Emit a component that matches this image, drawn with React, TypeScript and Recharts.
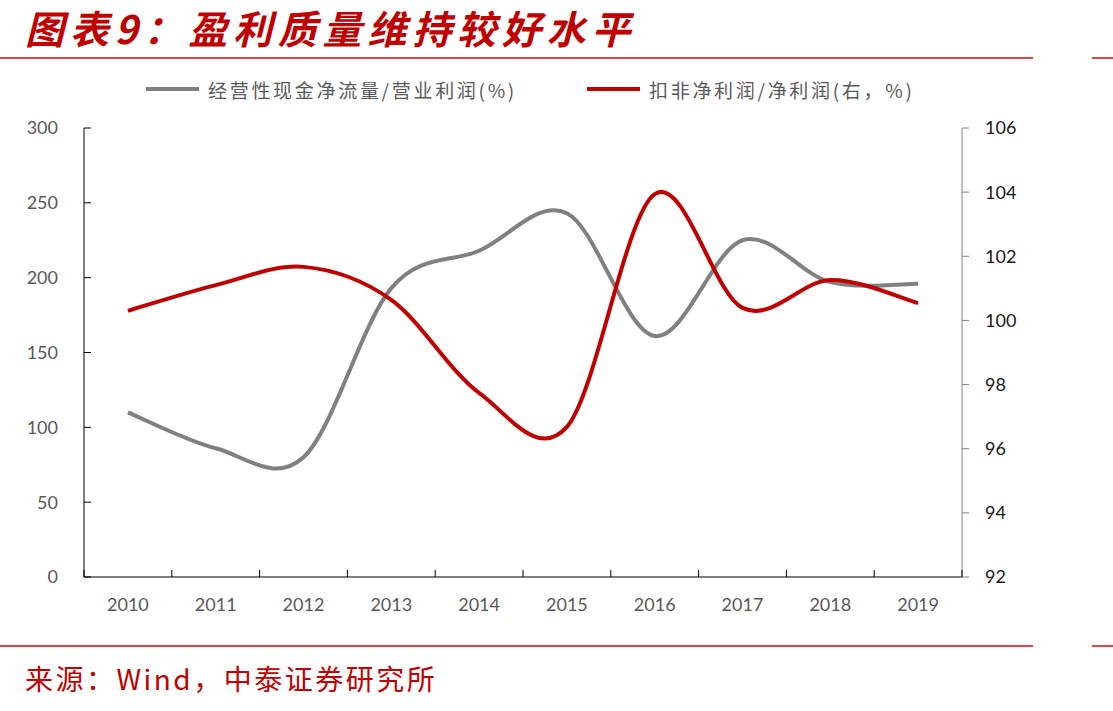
import React from 'react';
import { LineChart, Line, XAxis, YAxis } from 'recharts';

// Years on the category axis
const years = ['2010', '2011', '2012', '2013', '2014', '2015', '2016', '2017', '2018', '2019'];
// Operating cash flow / operating profit (%), left axis
const cashToProfit = [110, 86, 80, 193, 218, 243, 161, 225, 197, 196];
// Deducted net profit / net profit (%), right axis
const deductedRatio = [100.3, 101.1, 101.67, 100.64, 97.74, 96.68, 103.94, 100.39, 101.26, 100.54];

const leftTicks = [0, 50, 100, 150, 200, 250, 300];
const rightTicks = [92, 94, 96, 98, 100, 102, 104, 106];

const seriesNames = ['经营性现金净流量/营业利润(%)', '扣非净利润/净利润(右，%)'];
const seriesColors = ['#808080', '#c00000'];

const data = years.map((year, i) => ({
  year,
  cash: cashToProfit[i],
  ratio: deductedRatio[i],
}));

// Smoothed line in the style of office charts: cubic Bezier through every point
// with control points at one sixth of the neighbour-to-neighbour vector.
const smoothCurve: any = (context: any) => {
  let pts: [number, number][] = [];
  return {
    areaStart() {},
    areaEnd() {},
    lineStart() {
      pts = [];
    },
    point(x: number, y: number) {
      pts.push([+x, +y]);
    },
    lineEnd() {
      if (!pts.length) return;
      context.moveTo(pts[0][0], pts[0][1]);
      for (let i = 0; i < pts.length - 1; i++) {
        const p0 = pts[Math.max(i - 1, 0)];
        const p1 = pts[i];
        const p2 = pts[i + 1];
        const p3 = pts[Math.min(i + 2, pts.length - 1)];
        context.bezierCurveTo(
          p1[0] + (p2[0] - p0[0]) / 6,
          p1[1] + (p2[1] - p0[1]) / 6,
          p2[0] - (p3[0] - p1[0]) / 6,
          p2[1] - (p3[1] - p1[1]) / 6,
          p2[0],
          p2[1]
        );
      }
    },
  };
};

const tickFont = "Lato, 'Open Sans', sans-serif";
const cjkFont = "'Noto Sans CJK SC', sans-serif";

// Year label plus short inward tick marks at the band boundaries
const YearTick = (props: any) => {
  const { x, y, payload, index, visibleTicksCount } = props;
  const half = payload && typeof payload.offset === 'number' ? payload.offset : 0;
  const isLast = index === visibleTicksCount - 1;
  return (
    <g>
      <line x1={x - half} x2={x - half} y1={y} y2={y - 7} stroke="#000" strokeWidth={1} />
      {isLast && <line x1={x + half} x2={x + half} y1={y} y2={y - 7} stroke="#000" strokeWidth={1} />}
      <text x={x} y={y + 34} textAnchor="middle" fill="#595959" fontSize={18} fontFamily={tickFont}>
        {payload.value}
      </text>
    </g>
  );
};

const RedRule = ({ top }: { top: number }) => (
  <>
    <div style={{ position: 'absolute', left: 0, top, width: 1033, height: 2, background: '#e04545' }} />
    <div style={{ position: 'absolute', left: 1092, top, width: 21, height: 2, background: '#e04545' }} />
  </>
);

export default function App() {
  return (
    <div
      style={{
        position: 'absolute',
        left: 0,
        top: 0,
        width: 1113,
        height: 711,
        background: '#fff',
        overflow: 'hidden',
      }}
    >
      <div
        style={{
          position: 'absolute',
          left: 25,
          top: 2,
          fontFamily: cjkFont,
          fontSize: 39,
          fontWeight: 700,
          fontStyle: 'italic',
          letterSpacing: 5.8,
          color: '#c00000',
          whiteSpace: 'nowrap',
          lineHeight: '50px',
        }}
      >
        图表9：盈利质量维持较好水平
      </div>
      <RedRule top={57} />

      <div style={{ position: 'absolute', left: 0, top: 0 }}>
        <LineChart width={1113} height={640} data={data} margin={{ top: 128, right: 0, bottom: 0, left: 0 }}>
          <XAxis
            dataKey="year"
            xAxisId="x"
            scale="band"
            height={63}
            axisLine={{ stroke: '#000', strokeWidth: 1 }}
            tickLine={false}
            tickSize={0}
            tickMargin={0}
            interval={0}
            tick={<YearTick />}
          />
          <YAxis
            yAxisId="left"
            width={84}
            domain={[0, 300]}
            ticks={leftTicks}
            allowDataOverflow
            axisLine={{ stroke: '#000', strokeWidth: 1 }}
            tickLine={{ stroke: '#000', strokeWidth: 1 }}
            tickSize={-7}
            tickMargin={33}
            tick={{ fill: '#595959', fontSize: 18, fontFamily: tickFont }}
            interval={0}
          />
          <YAxis
            yAxisId="right"
            orientation="right"
            width={151}
            domain={[92, 106]}
            ticks={rightTicks}
            allowDataOverflow
            axisLine={{ stroke: '#808080', strokeWidth: 1 }}
            tickLine={{ stroke: '#808080', strokeWidth: 1 }}
            tickSize={7}
            tickMargin={16}
            tick={{ fill: '#1a1a1a', fontSize: 18, fontFamily: tickFont }}
            interval={0}
          />
          <Line
            xAxisId="x"
            yAxisId="left"
            dataKey="cash"
            name={seriesNames[0]}
            type={smoothCurve}
            stroke={seriesColors[0]}
            strokeWidth={4}
            dot={false}
            activeDot={false}
            isAnimationActive={false}
          />
          <Line
            xAxisId="x"
            yAxisId="right"
            dataKey="ratio"
            name={seriesNames[1]}
            type={smoothCurve}
            stroke={seriesColors[1]}
            strokeWidth={4}
            dot={false}
            activeDot={false}
            isAnimationActive={false}
          />
        </LineChart>
      </div>

      {/* legend */}
      {[146, 587].map((left, i) => (
        <div
          key={i}
          style={{
            position: 'absolute',
            left,
            top: 76,
            height: 26,
            display: 'flex',
            alignItems: 'center',
            whiteSpace: 'nowrap',
          }}
        >
          <div style={{ width: 53, height: 4, background: seriesColors[i], marginRight: 9 }} />
          <span style={{ fontFamily: cjkFont, fontSize: 19, letterSpacing: 2.7, color: '#595959' }}>
            {seriesNames[i]}
          </span>
        </div>
      ))}

      <RedRule top={645} />
      <div
        style={{
          position: 'absolute',
          left: 25,
          top: 659,
          fontFamily: cjkFont,
          fontSize: 28,
          letterSpacing: 2.5,
          color: '#c00000',
          whiteSpace: 'nowrap',
          lineHeight: '38px',
        }}
      >
        来源：Wind，中泰证券研究所
      </div>
    </div>
  );
}
